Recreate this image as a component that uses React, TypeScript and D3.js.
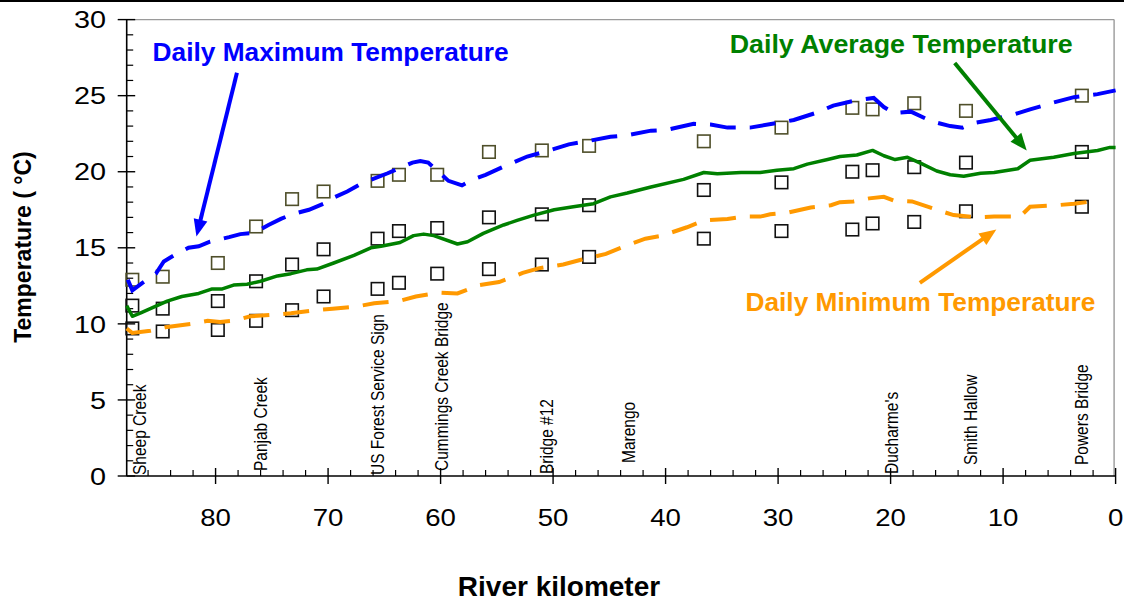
import React from 'react';
import * as d3 from 'd3';

// Observation sites along the river (river km) and measured daily temperatures (°C)
const stationKm = [87.4, 84.7, 79.8, 76.4, 73.2, 70.4, 65.6, 63.7, 60.3, 55.7, 51.0, 46.8, 36.6, 29.7, 23.4, 21.6, 17.9, 13.3, 3.0];
const obsMax = [12.9, 13.1, 14.0, 16.4, 18.2, 18.7, 19.4, 19.8, 19.8, 21.3, 21.4, 21.7, 22.0, 22.9, 24.2, 24.1, 24.5, 24.0, 25.0];
const obsAvg = [11.2, 11.0, 11.5, 12.8, 13.9, 14.9, 15.6, 16.1, 16.3, 17.0, 17.2, 17.8, 18.8, 19.3, 20.0, 20.1, 20.3, 20.6, 21.3];
const obsMin = [9.7, 9.5, 9.6, 10.2, 10.9, 11.8, 12.3, 12.7, 13.3, 13.6, 13.9, 14.4, 15.6, 16.1, 16.2, 16.6, 16.7, 17.4, 17.7];

// Simulated longitudinal profiles
const maxKm = [87.8, 87.4, 86.5, 85.3, 84.6, 83.7, 82.4, 81.5, 80.5, 78.8, 77.8, 76.5, 75.3, 74.2, 73.2, 71.7, 70.4, 69.5, 68.3, 67.1, 64.7, 62.5, 61.8, 61.1, 59.3, 58.1, 57.1, 56.0, 54.5, 52.3, 50.8, 48.6, 47.0, 44.9, 43.4, 41.3, 39.9, 37.5, 36.0, 34.5, 32.5, 30.1, 28.6, 26.5, 25.1, 23.0, 21.5, 20.6, 19.7, 18.2, 16.3, 14.7, 13.6, 12.6, 11.1, 9.1, 7.6, 5.5, 3.7, 1.6, 0.0];
const maxT = [12.9, 12.2, 12.7, 13.3, 14.1, 14.5, 15.0, 15.1, 15.4, 15.7, 15.9, 16.0, 16.5, 16.9, 17.2, 17.5, 17.9, 18.3, 18.7, 19.2, 19.9, 20.6, 20.7, 20.6, 19.4, 19.1, 19.5, 19.8, 20.3, 21.0, 21.3, 21.8, 22.0, 22.3, 22.4, 22.7, 22.75, 23.15, 23.1, 22.9, 22.9, 23.2, 23.4, 23.9, 24.35, 24.7, 24.85, 24.25, 23.85, 23.95, 23.3, 23.0, 22.9, 23.2, 23.4, 23.75, 24.1, 24.55, 24.9, 25.1, 25.35];

const avgKm = [87.9, 87.4, 86.7, 85.5, 84.3, 83.0, 81.5, 80.3, 79.4, 78.4, 77.2, 76.0, 74.5, 73.3, 71.9, 71.0, 69.5, 67.7, 66.2, 65.3, 63.6, 62.4, 61.5, 60.6, 58.5, 57.6, 56.2, 54.4, 53.2, 51.7, 49.9, 48.2, 46.4, 44.9, 43.4, 41.3, 38.4, 36.6, 35.4, 33.3, 31.6, 30.1, 28.6, 27.4, 25.6, 24.5, 23.0, 21.6, 20.6, 19.6, 18.5, 17.3, 15.9, 14.7, 13.5, 12.0, 10.8, 8.7, 7.6, 5.5, 3.7, 1.6, 0.5, 0.0];
const avgT = [11.2, 10.5, 10.7, 11.1, 11.5, 11.8, 12.0, 12.3, 12.3, 12.55, 12.6, 12.8, 13.15, 13.3, 13.55, 13.6, 14.0, 14.5, 15.0, 15.1, 15.35, 15.8, 15.9, 15.8, 15.25, 15.4, 15.95, 16.5, 16.8, 17.15, 17.5, 17.7, 17.9, 18.35, 18.6, 19.0, 19.5, 19.95, 19.86, 19.95, 19.95, 20.1, 20.2, 20.5, 20.8, 21.0, 21.1, 21.4, 21.05, 20.8, 20.95, 20.55, 20.05, 19.8, 19.7, 19.9, 19.95, 20.2, 20.75, 20.95, 21.2, 21.4, 21.6, 21.6];

const minKm = [87.9, 87.4, 85.8, 84.3, 82.2, 80.7, 79.6, 78.4, 76.9, 74.8, 73.3, 71.0, 69.6, 67.4, 65.9, 63.7, 62.2, 60.2, 58.5, 56.5, 54.8, 53.5, 52.7, 51.3, 49.1, 47.6, 45.3, 44.0, 41.8, 40.3, 38.1, 36.6, 34.5, 33.1, 31.6, 30.7, 29.2, 27.1, 25.3, 24.5, 23.3, 21.9, 20.6, 19.7, 18.1, 15.9, 14.4, 12.3, 10.8, 8.5, 7.6, 5.2, 3.7, 1.5];
const minT = [9.7, 9.4, 9.55, 9.8, 10.0, 10.2, 10.13, 10.2, 10.5, 10.6, 10.7, 10.9, 11.0, 11.15, 11.35, 11.5, 11.8, 12.05, 12.0, 12.55, 12.75, 13.1, 13.35, 13.65, 13.9, 14.2, 14.6, 15.0, 15.6, 15.8, 16.35, 16.8, 16.9, 17.05, 17.05, 17.2, 17.3, 17.65, 17.8, 18.0, 18.05, 18.25, 18.35, 18.1, 18.05, 17.5, 17.15, 17.0, 17.05, 17.05, 17.7, 17.8, 17.9, 18.1];

// Landmarks along the river
const siteNames = ['Sheep Creek', 'Panjab Creek', 'US Forest Service Sign', 'Cummings Creek Bridge', 'Bridge #12', 'Marengo', "Ducharme's", 'Smith Hallow', 'Powers Bridge'];
const siteKm = [86.7, 76.0, 65.6, 59.9, 50.6, 43.3, 19.9, 12.9, 3.0];

const xTicks = [80, 70, 60, 50, 40, 30, 20, 10, 0];
const yTicks = [0, 5, 10, 15, 20, 25, 30];

const FONT = "'Liberation Sans', Arial, Helvetica, sans-serif";
const BLUE = '#0000ff';
const GREEN = '#008000';
const ORANGE = '#ff9900';

const W = 1124;
const H = 602;
const x = d3.scaleLinear().domain([87.9, 0]).range([126.7, 1115.6]);
const y = d3.scaleLinear().domain([0, 30]).range([476, 19.6]);

// lift (px) of each landmark label above the axis
const siteLift = [1, 5, 1, 5, 2, 13, 2, 11, 11];

function pathOf(kms: number[], ts: number[]) {
  const line = d3.line<number>().x((_, i) => x(kms[i])).y((_, i) => y(ts[i]));
  return line(kms.map((_, i) => i)) || '';
}

function Arrow({ from, to, color }: { from: [number, number]; to: [number, number]; color: string }) {
  const x1 = x(from[0]), y1 = y(from[1]), x2 = x(to[0]), y2 = y(to[1]);
  const dx = x2 - x1, dy = y2 - y1;
  const len = Math.hypot(dx, dy);
  const ux = dx / len, uy = dy / len;
  const headL = 17, headW = 7;
  const bx = x2 - ux * headL, by = y2 - uy * headL;
  const pts = [
    [x2, y2],
    [bx - uy * headW, by + ux * headW],
    [bx + uy * headW, by - ux * headW],
  ].map(p => p.join(',')).join(' ');
  return (
    <g>
      <line x1={x1} y1={y1} x2={bx + ux * 2} y2={by + uy * 2} stroke={color} strokeWidth={4} />
      <polygon points={pts} fill={color} />
    </g>
  );
}

function Squares({ vals, stroke }: { vals: number[]; stroke: string }) {
  const s = 12.5;
  return (
    <g>
      {stationKm.map((k, i) => (
        <rect key={i} x={x(k) - s / 2} y={y(vals[i]) - s / 2} width={s} height={s} fill="none" stroke={stroke} strokeWidth={1.6} />
      ))}
    </g>
  );
}

export default function App() {
  const x0 = x(87.9), x1 = x(0), y0 = y(0), y1 = y(30);
  const minorX = d3.range(2, 88, 2).filter(v => v % 10 !== 0);
  const minorY = d3.range(1, 30, 1).filter(v => v % 5 !== 0);
  return (
    <svg width={W} height={H} viewBox={`0 0 ${W} ${H}`} style={{ position: 'absolute', left: 0, top: 0, background: '#fff' }} fontFamily={FONT}>
      <rect x={0} y={0} width={W} height={H} fill="#fff" />
      <line x1={0} y1={1} x2={W} y2={1} stroke="#000" strokeWidth={2} />

      {/* plot frame */}
      <line x1={x0} y1={y1} x2={x1 - 1.5} y2={y1} stroke="#9a9a9a" strokeWidth={1.4} />
      <line x1={x1 - 1.5} y1={y1} x2={x1 - 1.5} y2={y0} stroke="#9a9a9a" strokeWidth={1.4} />

      {/* landmark labels */}
      {siteNames.map((n, i) => {
        const px = x(siteKm[i]);
        const py = y0 - siteLift[i];
        return (
          <text key={n} transform={`translate(${px},${py}) scale(1.15,1) rotate(-90)`} dy="0.35em" fontSize={15.5} fill="#000">
            {n}
          </text>
        );
      })}

      {/* axes */}
      <line x1={x0} y1={y1} x2={x0} y2={y0} stroke="#000" strokeWidth={1.6} />
      <line x1={x0} y1={y0} x2={x1} y2={y0} stroke="#000" strokeWidth={1.6} />
      {minorY.map(v => (
        <line key={'my' + v} x1={x0} x2={x0 + 6.5} y1={y(v)} y2={y(v)} stroke="#000" strokeWidth={1.2} />
      ))}
      {yTicks.map(v => (
        <g key={'y' + v}>
          <line x1={x0 - 9} x2={x0 + 8.5} y1={y(v)} y2={y(v)} stroke="#000" strokeWidth={1.4} />
          <text transform={`translate(106,${y(v)}) scale(1.2,1)`} dy="0.36em" textAnchor="end" fontSize={24} fill="#000">{v}</text>
        </g>
      ))}
      {minorX.map(v => (
        <line key={'mx' + v} x1={x(v)} x2={x(v)} y1={y0} y2={y0 - 6} stroke="#000" strokeWidth={1.2} />
      ))}
      {xTicks.map(v => (
        <g key={'x' + v}>
          <line x1={x(v)} x2={x(v)} y1={y0 - 8} y2={y0 + 8} stroke="#000" strokeWidth={1.4} />
          <text transform={`translate(${x(v)},526) scale(1.15,1)`} textAnchor="middle" fontSize={24} fill="#000">{v}</text>
        </g>
      ))}

      {/* axis titles */}
      <text transform="translate(31,247) rotate(-90)" textAnchor="middle" fontSize={23} fontWeight="bold" fill="#000">
        Temperature ( °C)
      </text>
      <text x={559} y={596} textAnchor="middle" fontSize={28} fontWeight="bold" fill="#000">River kilometer</text>

      {/* observations */}
      <Squares vals={obsMax} stroke="#4f4f2a" />
      <Squares vals={obsAvg} stroke="#111" />
      <Squares vals={obsMin} stroke="#111" />

      {/* modelled profiles */}
      <path d={pathOf(minKm, minT)} fill="none" stroke={ORANGE} strokeWidth={4} strokeDasharray="26 14" />
      <path d={pathOf(avgKm, avgT)} fill="none" stroke={GREEN} strokeWidth={3.5} strokeLinejoin="round" />
      <path d={pathOf(maxKm, maxT)} fill="none" stroke={BLUE} strokeWidth={4} strokeDasharray="26 14" />

      {/* annotations */}
      <text x={x(85.6)} y={y(27.3)} fontSize={26} fontWeight="bold" fill={BLUE} textLength={356} lengthAdjust="spacingAndGlyphs">Daily Maximum Temperature</text>
      <Arrow from={[78.1, 26.5]} to={[81.7, 15.75]} color={BLUE} />
      <text x={x(34.3)} y={y(27.8)} fontSize={26} fontWeight="bold" fill={GREEN} textLength={343} lengthAdjust="spacingAndGlyphs">Daily Average Temperature</text>
      <Arrow from={[14.3, 27.15]} to={[7.9, 21.4]} color={GREEN} />
      <text x={x(32.9)} y={y(10.85)} fontSize={26} fontWeight="bold" fill={ORANGE} textLength={350} lengthAdjust="spacingAndGlyphs">Daily Minimum Temperature</text>
      <Arrow from={[17.4, 12.7]} to={[10.6, 16.2]} color={ORANGE} />
    </svg>
  );
}
